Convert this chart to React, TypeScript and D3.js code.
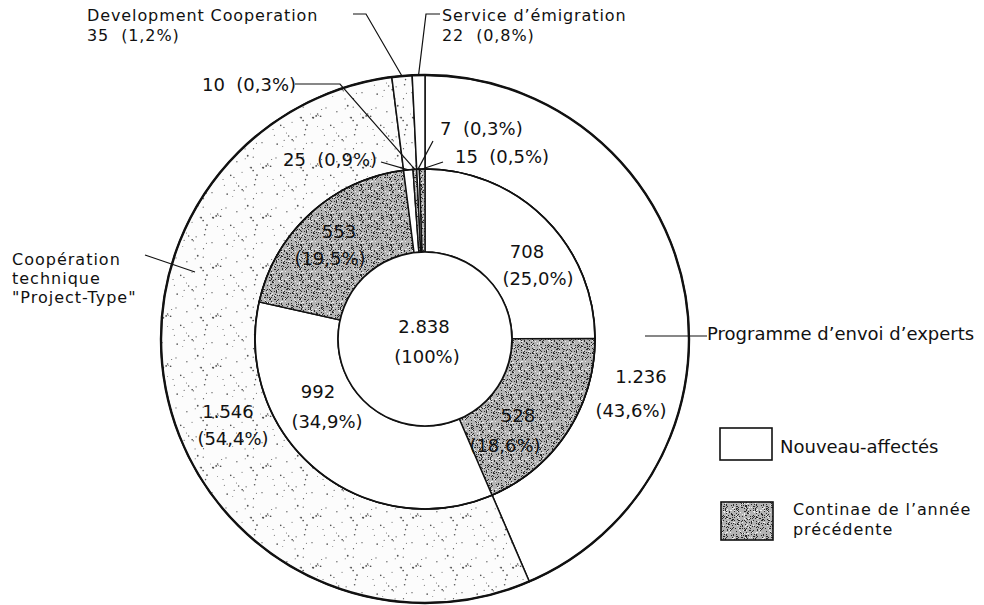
import React from "react";
import * as d3 from "d3";

// ---------- DATA ----------
const outerCategories = [
  "Programme d’envoi d’experts",
  "Coopération technique \"Project-Type\"",
  "Development Cooperation",
  "Service d’émigration",
];
const outerValues = [1236, 1546, 35, 22];
const outerValueLabels = ["1.236", "1.546", "35", "22"];
const outerPercentLabels = ["43,6%", "54,4%", "1,2%", "0,8%"];

// inner ring: for each programme, new (Nouveau-affectés) then continuing
const innerStatus = ["new", "cont", "new", "cont", "new", "cont", "new", "cont"];
const innerValues = [708, 528, 992, 553, 25, 10, 7, 15];
const innerPercentLabels = ["25,0%", "18,6%", "34,9%", "19,5%", "0,9%", "0,3%", "0,3%", "0,5%"];

const totalLabel = "2.838";
const totalPercentLabel = "100%";

const legendLabels = ["Nouveau-affectés", "Continae de l’année", "précédente"];

// ---------- LAYOUT ----------
const W = 984;
const H = 605;
const CX = 425;
const CY = 339;
const R_OUT = 264;
const R_MID = 170;
const R_IN = 87;
const FONT = "'DejaVu Sans', sans-serif";
const FS = 18;

// deterministic texture helper (pattern only, not data)
function hash(i: number, s: number) {
  const x = Math.sin(i * 12.9898 + s * 78.233) * 43758.5453;
  return x - Math.floor(x);
}

const lightDots = d3.range(38).map((i) => ({ x: hash(i, 1) * 50, y: hash(i, 2) * 50, r: 0.45 + hash(i, 3) * 0.5 }));
const denseDots = d3.range(190).map((i) => ({ x: Math.floor(hash(i, 4) * 30), y: Math.floor(hash(i, 5) * 30) }));
const denseWhite = d3.range(70).map((i) => ({ x: Math.floor(hash(i, 6) * 30), y: Math.floor(hash(i, 7) * 30) }));

export default function App() {
  const pie = d3.pie<number>().sort(null).value((d) => d);
  const outerArcs = pie(outerValues);
  const innerArcs = pie(innerValues);

  const outerArc = d3.arc<d3.PieArcDatum<number>>().innerRadius(R_MID).outerRadius(R_OUT);
  const innerArc = d3.arc<d3.PieArcDatum<number>>().innerRadius(R_IN).outerRadius(R_MID);

  const outerFill = ["#ffffff", "url(#light)", "url(#light)", "#ffffff"];
  const innerFill = (i: number) => (innerStatus[i] === "cont" ? "url(#dense)" : "#ffffff");

  const polar = (angle: number, r: number): [number, number] => [CX + r * Math.sin(angle), CY - r * Math.cos(angle)];
  const mid = (a: d3.PieArcDatum<number>) => (a.startAngle + a.endAngle) / 2;

  const line = d3.line();

  // leader lines
  const leaders: [number, number][][] = [
    [[353, 14], [366, 14], polar(mid(outerArcs[2]), R_OUT)],
    [[440, 14], [426, 14], polar(mid(outerArcs[3]), R_OUT)],
    [[295, 84], [340, 84], polar(mid(innerArcs[5]), R_MID)],
    [[381, 162], polar(mid(innerArcs[4]), R_MID)],
    [[433, 141], polar(mid(innerArcs[6]), R_MID)],
    [[443, 162], polar(mid(innerArcs[7]), R_MID)],
    [[145, 255], [195, 272]],
    [[645, 336], [707, 336]],
  ];

  type T = { t: string; x: number; y: number; a?: "start" | "middle"; fs?: number; ls?: number };
  const texts: T[] = [
    // inner ring labels
    { t: String(innerValues[0]), x: 527, y: 258, a: "middle" },
    { t: `(${innerPercentLabels[0]})`, x: 538, y: 285, a: "middle" },
    { t: String(innerValues[1]), x: 518, y: 422, a: "middle" },
    { t: `(${innerPercentLabels[1]})`, x: 505, y: 452, a: "middle" },
    { t: String(innerValues[2]), x: 318, y: 398, a: "middle" },
    { t: `(${innerPercentLabels[2]})`, x: 327, y: 428, a: "middle" },
    { t: String(innerValues[3]), x: 339, y: 238, a: "middle" },
    { t: `(${innerPercentLabels[3]})`, x: 330, y: 265, a: "middle" },
    { t: `${innerValues[4]}  (${innerPercentLabels[4]})`, x: 283, y: 166 },
    { t: `${innerValues[5]}  (${innerPercentLabels[5]})`, x: 202, y: 91 },
    { t: `${innerValues[6]}  (${innerPercentLabels[6]})`, x: 440, y: 135 },
    { t: `${innerValues[7]}  (${innerPercentLabels[7]})`, x: 455, y: 163 },
    // centre
    { t: totalLabel, x: 424, y: 333, a: "middle" },
    { t: `(${totalPercentLabel})`, x: 427, y: 363, a: "middle" },
    // outer ring labels
    { t: outerValueLabels[0], x: 641, y: 383, a: "middle" },
    { t: `(${outerPercentLabels[0]})`, x: 631, y: 417, a: "middle" },
    { t: outerValueLabels[1], x: 228, y: 418, a: "middle" },
    { t: `(${outerPercentLabels[1]})`, x: 233, y: 445, a: "middle" },
    { t: outerCategories[2], x: 87, y: 21, fs: 16, ls: 0.9 },
    { t: `${outerValueLabels[2]}  (${outerPercentLabels[2]})`, x: 87, y: 41, fs: 16, ls: 0.9 },
    { t: outerCategories[3], x: 442, y: 21, fs: 16, ls: 0.9 },
    { t: `${outerValueLabels[3]}  (${outerPercentLabels[3]})`, x: 442, y: 41, fs: 16, ls: 0.9 },
    { t: outerCategories[0], x: 707, y: 340 },
    { t: "Coopération", x: 12, y: 265, fs: 16, ls: 1 },
    { t: "technique", x: 12, y: 284, fs: 16, ls: 1 },
    { t: "\"Project-Type\"", x: 12, y: 303, fs: 16, ls: 1 },
    // legend
    { t: legendLabels[0], x: 780, y: 453 },
    { t: legendLabels[1], x: 793, y: 515, fs: 16, ls: 0.9 },
    { t: legendLabels[2], x: 793, y: 535, fs: 16, ls: 0.9 },
  ];

  return (
    <svg
      width={W}
      height={H}
      viewBox={`0 0 ${W} ${H}`}
      style={{ position: "absolute", left: 0, top: 0, background: "#fff" }}
    >
      <defs>
        <pattern id="light" width={50} height={50} patternUnits="userSpaceOnUse">
          <rect width={50} height={50} fill="#fcfcfc" />
          {lightDots.map((d, i) => (
            <circle key={i} cx={d.x} cy={d.y} r={d.r} fill="#555" />
          ))}
        </pattern>
        <pattern id="dense" width={30} height={30} patternUnits="userSpaceOnUse">
          <rect width={30} height={30} fill="#b4b4b4" />
          {denseDots.map((d, i) => (
            <rect key={i} x={d.x} y={d.y} width={1} height={1} fill="#2a2a2a" />
          ))}
          {denseWhite.map((d, i) => (
            <rect key={"w" + i} x={d.x} y={d.y} width={1} height={1} fill="#eee" />
          ))}
        </pattern>
      </defs>
      <rect width={W} height={H} fill="#fff" />

      <g transform={`translate(${CX},${CY})`}>
        {outerArcs.map((a, i) => (
          <path key={"o" + i} d={outerArc(a) || ""} fill={outerFill[i]} stroke="#111" strokeWidth={1.5} />
        ))}
        {innerArcs.map((a, i) => (
          <path key={"i" + i} d={innerArc(a) || ""} fill={innerFill(i)} stroke="#111" strokeWidth={1.4} />
        ))}
        <circle r={R_OUT} fill="none" stroke="#111" strokeWidth={2.4} />
        <circle r={R_MID} fill="none" stroke="#111" strokeWidth={1.7} />
        <circle r={R_IN} fill="#fff" stroke="#111" strokeWidth={1.7} />
      </g>

      {leaders.map((pts, i) => (
        <path key={"l" + i} d={line(pts) || ""} fill="none" stroke="#111" strokeWidth={1.2} />
      ))}

      {/* legend boxes */}
      <rect x={720} y={428} width={52} height={32} fill="#fff" stroke="#111" strokeWidth={1.6} />
      <rect x={721} y={502} width={52} height={38} fill="url(#dense)" stroke="#111" strokeWidth={1.6} />

      {texts.map((d, i) => (
        <text
          key={"t" + i}
          x={d.x}
          y={d.y}
          textAnchor={d.a || "start"}
          fontFamily={FONT}
          fontSize={d.fs || FS}
          letterSpacing={d.ls || 0}
          fill="#111"
          style={{ whiteSpace: "pre" }}
        >
          {d.t}
        </text>
      ))}
    </svg>
  );
}
